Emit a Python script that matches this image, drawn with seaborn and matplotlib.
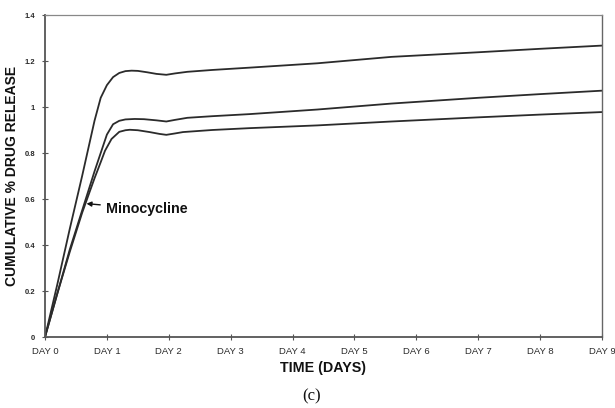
import matplotlib
matplotlib.use("Agg")
import matplotlib.pyplot as plt
import seaborn as sns
import pandas as pd

# Cumulative release profiles (% of loading) over nine days
top_days = [0, 0.2, 0.4, 0.6, 0.8, 0.9, 1.0, 1.1, 1.2, 1.3, 1.4, 1.5, 1.65, 1.8, 1.96,
            2.1, 2.3, 2.7, 3.3, 4.4, 5.6, 7, 8, 9]
top_vals = [0, 0.23, 0.47, 0.70, 0.94, 1.04, 1.095, 1.13, 1.148, 1.156, 1.158, 1.157,
            1.151, 1.144, 1.14, 1.146, 1.153, 1.161, 1.171, 1.19, 1.218, 1.238, 1.253, 1.267]

mid_days = [0, 0.2, 0.4, 0.6, 0.8, 0.9, 1.0, 1.1, 1.2, 1.3, 1.45, 1.6, 1.8, 1.96,
            2.1, 2.3, 2.7, 3.3, 4.4, 5.6, 7, 8, 9]
mid_vals = [0, 0.19, 0.38, 0.55, 0.72, 0.80, 0.88, 0.925, 0.94, 0.946, 0.948, 0.947,
            0.942, 0.937, 0.944, 0.953, 0.96, 0.969, 0.989, 1.015, 1.04, 1.056, 1.071]

low_days = [0, 0.2, 0.4, 0.6, 0.8, 0.9, 0.97, 1.075, 1.2, 1.3, 1.37, 1.5, 1.69, 1.85,
            1.96, 2.1, 2.23, 2.7, 3.3, 4.4, 5.6, 7, 8, 9]
low_vals = [0, 0.19, 0.37, 0.54, 0.69, 0.76, 0.81, 0.861, 0.892, 0.899, 0.901, 0.899,
            0.891, 0.883, 0.879, 0.885, 0.891, 0.90, 0.908, 0.92, 0.937, 0.955, 0.967, 0.978]

day_ticks = list(range(10))
day_labels = [f"DAY {d}" for d in day_ticks]
y_ticks = [0, 0.2, 0.4, 0.6, 0.8, 1.0, 1.2, 1.4]
y_labels = ["0", "0.2", "0.4", "0.6", "0.8", "1", "1.2", "1.4"]

annot_label = "Minocycline"
annot_point = (0.67, 0.58)
annot_text = (0.99, 0.556)

sns.set_theme(style="ticks")
plt.rcParams["font.family"] = ["Liberation Sans", "DejaVu Sans"]

fig = plt.figure(figsize=(6.15, 4.08), dpi=100)
ax = fig.add_axes([45 / 615, 1 - 337 / 408, (602 - 45) / 615, (337 - 15) / 408])

line_color = "#2b2b2b"
for d, v in [(top_days, top_vals), (mid_days, mid_vals), (low_days, low_vals)]:
    df = pd.DataFrame({"day": d, "release": v})
    sns.lineplot(data=df, x="day", y="release", ax=ax, color=line_color,
                 linewidth=1.3, sort=False, estimator=None)

ax.set_xlim(0, 9)
ax.set_ylim(0, 1.4)
ax.set_xticks(day_ticks)
ax.set_xticklabels(day_labels)
ax.set_yticks(y_ticks)
ax.set_yticklabels(y_labels)

ax.tick_params(axis="both", direction="inout", length=5, width=0.8,
               color="#555555", labelcolor="#2a2a2a")
ax.tick_params(axis="y", pad=4.5, labelsize=5.5)
ax.tick_params(axis="x", pad=5, labelsize=6.8)
for lab in ax.get_yticklabels():
    lab.set_fontweight("bold")

for side in ["left", "bottom"]:
    ax.spines[side].set_color("#555555")
    ax.spines[side].set_linewidth(1.3)
ax.spines["right"].set_visible(True)
ax.spines["right"].set_color("#666666")
ax.spines["right"].set_linewidth(1.0)
ax.spines["top"].set_visible(True)
ax.spines["top"].set_color("#888888")
ax.spines["top"].set_linewidth(0.9)
ax.spines["top"].set_linestyle((0, (2, 1)))

ax.set_xlabel("TIME (DAYS)", fontsize=10.3, fontweight="bold", color="#111111", labelpad=3)
ax.set_ylabel("CUMULATIVE % DRUG RELEASE", fontsize=10, fontweight="bold",
              color="#111111")
ax.yaxis.set_label_coords(-0.046, 0.5)

ax.annotate(annot_label, xy=annot_point, xytext=annot_text,
            fontsize=10.3, fontweight="bold", color="#111111", va="center", ha="left",
            arrowprops=dict(arrowstyle="-|>", color="#111111", lw=1.0,
                            mutation_scale=7, shrinkA=2, shrinkB=0))

fig.text(312 / 615, 1 - 396 / 408, "(c)", ha="center", va="center",
         fontsize=12, family=["Liberation Serif", "DejaVu Serif"], color="#111111")

fig.savefig("out.png", dpi=100, facecolor="white")
